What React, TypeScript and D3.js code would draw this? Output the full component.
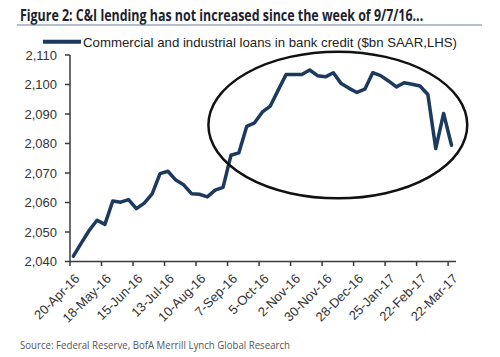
import React from "react";
import * as d3 from "d3";

const title = "Figure 2: C&I lending has not increased since the week of 9/7/16...";
const legendLabel = "Commercial and industrial loans in bank credit ($bn SAAR,LHS)";
const source = "Source: Federal Reserve, BofA Merrill Lynch Global Research";

const startDate = new Date(2016, 3, 20);
const weeksOnAxis = 49;
const tickEveryWeeks = 4;
const yTicks = [2040, 2050, 2060, 2070, 2080, 2090, 2100, 2110];

// weekly C&I loans, $bn
const loans = [
  2041.8, 2046.2, 2050.5, 2054.0, 2052.6, 2060.5, 2060.1, 2061.0, 2057.9, 2059.8,
  2062.9, 2069.8, 2070.6, 2067.6, 2066.0, 2063.0, 2062.8, 2061.9, 2064.2, 2065.1,
  2076.0, 2076.8, 2085.8, 2087.0, 2090.7, 2092.7, 2098.1, 2103.4, 2103.4, 2103.4,
  2104.9, 2103.0, 2102.6, 2104.0, 2100.3, 2098.7, 2097.3, 2098.4, 2104.0, 2103.0,
  2101.2, 2099.2, 2100.6, 2100.1, 2099.5, 2096.6, 2078.3, 2090.2, 2079.4,
];
const dataOffsetDays = 3;

// annotation ellipse bounds (weeks from start, values)
const ellipseWeeks = [17.7, 50.5];
const ellipseValues = [2061.4, 2111.1];

const addDays = (d: Date, n: number) => d3.timeDay.offset(d, n);

export default function App() {
  const W = 500, H = 357;
  const x = d3.scaleTime()
    .domain([startDate, addDays(startDate, weeksOnAxis * 7)])
    .range([70, 456]);
  const y = d3.scaleLinear().domain([2040, 2110]).range([261.5, 55]);

  const pts = loans.map((v, i) => ({ d: addDays(startDate, i * 7 + dataOffsetDays), v }));
  const line = d3.line<{ d: Date; v: number }>().x(p => x(p.d)).y(p => y(p.v));

  const tickDates = d3.range(0, weeksOnAxis, tickEveryWeeks).map(w => addDays(startDate, w * 7));
  const fmt = d3.timeFormat("%-d-%b-%y");

  const ex0 = x(addDays(startDate, ellipseWeeks[0] * 7));
  const ex1 = x(addDays(startDate, ellipseWeeks[1] * 7));
  const ey0 = y(ellipseValues[1]);
  const ey1 = y(ellipseValues[0]);

  const axisColor = "#3a3a3a";
  const lineColor = "#1b3a5e";
  const font = "'Liberation Sans', Arial, sans-serif";

  return (
    <svg width={W} height={H} style={{ position: "absolute", left: 0, top: 0, background: "#fff" }}>
      <rect width={W} height={H} fill="#fff" />
      <text transform="translate(20,21) scale(0.7,1)" fontFamily="'Open Sans', 'Noto Sans', sans-serif"
        fontWeight={700} fontSize={15.5} fill="#1d1f2e" textLength={576} lengthAdjust="spacingAndGlyphs">{title}</text>
      <line x1={17} x2={482} y1={25} y2={25} stroke="#6b7fa0" strokeWidth={1.2} />

      {/* legend */}
      <line x1={43} x2={81} y1={41.7} y2={41.7} stroke={lineColor} strokeWidth={4} />
      <text x={83} y={46.5} fontFamily={font} fontSize={13} fill="#222"
        textLength={374} lengthAdjust="spacingAndGlyphs">{legendLabel}</text>

      {/* y axis */}
      <line x1={70} x2={70} y1={55} y2={261.5} stroke={axisColor} strokeWidth={1.5} />
      {yTicks.map(t => (
        <g key={t}>
          <line x1={65} x2={70} y1={y(t)} y2={y(t)} stroke={axisColor} strokeWidth={1.5} />
          <text x={57} y={y(t)} dy="0.35em" textAnchor="end" fontFamily={font} fontSize={13} fill="#333">
            {d3.format(",")(t)}
          </text>
        </g>
      ))}

      {/* x axis */}
      <line x1={70} x2={456} y1={261.5} y2={261.5} stroke={axisColor} strokeWidth={1.5} />
      {tickDates.map(d => (
        <g key={+d}>
          <line x1={x(d)} x2={x(d)} y1={261.5} y2={266} stroke={axisColor} strokeWidth={1.5} />
          <text transform={`translate(${x(d) + 4},${273}) rotate(-45)`} textAnchor="end"
            dy="0.7em" fontFamily={font} fontSize={13} fill="#333">{fmt(d)}</text>
        </g>
      ))}

      <path d={line(pts) || ""} fill="none" stroke={lineColor} strokeWidth={3.5}
        strokeLinejoin="round" strokeLinecap="round" />

      <ellipse cx={(ex0 + ex1) / 2} cy={(ey0 + ey1) / 2} rx={(ex1 - ex0) / 2} ry={(ey1 - ey0) / 2}
        fill="none" stroke="#111" strokeWidth={2.5} />

      <text x={20} y={349} fontFamily="'Open Sans', 'Noto Sans', sans-serif" fontSize={11} fill="#555"
        textLength={270} lengthAdjust="spacingAndGlyphs">{source}</text>
    </svg>
  );
}
